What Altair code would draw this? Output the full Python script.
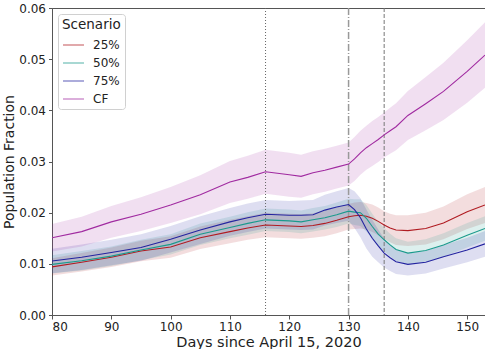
import altair as alt
import pandas as pd

days = [80, 85, 90, 95, 100, 105, 110, 113, 116, 118, 120, 122, 124, 126, 128,
        130, 131, 132, 133, 134, 135, 136, 137, 138, 140, 143, 146, 150, 153]

cf = [.0151, .0163, .0182, .0197, .0215, .0235, .0260, .0269, .0280, .0277, .0274, .0271, .0278, .0283, .0289,
      .0295, .0305, .0317, .0327, .0335, .0343, .0352, .0360, .0368, .0390, .0413, .0437, .0476, .0508]
cf_sp = [.0027, .0029, .0031, .0033, .0035, .0038, .0041, .0042, .0043, .0043, .0043, .0042, .0042, .0042, .0042,
         .0042, .0043, .0043, .0043, .0044, .0044, .0044, .0045, .0046, .0048, .0052, .0056, .0061, .0064]

p75 = [.01055, .0113, .0122, .0132, .0148, .0166, .0182, .0190, .0197, .0196, .0195, .0195, .0196, .0205, .0211,
       .0216, .0206, .0190, .0168, .0150, .0135, .0121, .0112, .0104, .0099, .0103, .0114, .0127, .0139]
p75_sp = [.0024, .0025, .0025, .0026, .0026, .0027, .0027, .0028, .0028, .0028, .0028, .0029, .0029, .0030, .0031,
          .0032, .0036, .0038, .0038, .0036, .0032, .0028, .0026, .0024, .0022, .0022, .0023, .0024, .0025]

p50 = [.0099, .0106, .0115, .0127, .0138, .0158, .0171, .0179, .0186, .0185, .0184, .0182, .0186, .0190, .0196,
       .0203, .0201, .0200, .0189, .0173, .0158, .0147, .0137, .0128, .0121, .0126, .0137, .0156, .0169]
p50_sp = [.0018, .0019, .0019, .0020, .0020, .0021, .0021, .0022, .0022, .0022, .0022, .0022, .0023, .0023, .0024,
          .0024, .0025, .0026, .0026, .0025, .0024, .0023, .0022, .0022, .0022, .0022, .0023, .0024, .0024]

p25 = [.0094, .0103, .0113, .0125, .0133, .0151, .0163, .0170, .0176, .0175, .0174, .0173, .0175, .0179, .0185,
       .0192, .0194, .0195, .0193, .0189, .0183, .0176, .0170, .0166, .0165, .0169, .0180, .0202, .0215]
p25_sp = [.0017, .0018, .0019, .0020, .0021, .0022, .0023, .0023, .0024, .0024, .0024, .0024, .0024, .0025, .0025,
          .0025, .0026, .0026, .0026, .0027, .0027, .0027, .0028, .0029, .0030, .0031, .0032, .0034, .0035]

scenarios = ["25%", "50%", "75%", "CF"]
colors = ["#b01c22", "#1a9a8c", "#2424a0", "#a02aa0"]

rows = []
for name, vals, sp in [("25%", p25, p25_sp), ("50%", p50, p50_sp), ("75%", p75, p75_sp), ("CF", cf, cf_sp)]:
    for d, v, s in zip(days, vals, sp):
        rows.append({"day": d, "value": v, "lo": v - s, "hi": v + s, "Scenario": name})
df = pd.DataFrame(rows)

xscale = alt.Scale(domain=[80, 153], nice=False, zero=False)
yscale = alt.Scale(domain=[0, 0.06], nice=False)
cscale = alt.Scale(domain=scenarios, range=colors)

legend = alt.Legend(
    title="Scenario", orient="top-left", offset=6, titleFontSize=13.5, labelFontSize=12,
    titleFontWeight="normal", titleColor="#222", labelColor="#222",
    symbolType="stroke", symbolSize=440, symbolStrokeWidth=1.5, symbolOpacity=0.5,
    strokeColor="#d0d0d0", fillColor="white", padding=4, cornerRadius=3,
    rowPadding=-9, labelOffset=8, titlePadding=2)

xaxis = alt.Axis(values=[80, 90, 100, 110, 120, 130, 140, 150], title="Days since April 15, 2020",
                 grid=False, labelFontSize=12, titleFontSize=14.5, titleFontWeight="normal",
                 labelColor="#222", titleColor="#222", domainColor="#555", tickColor="#555",
                 tickSize=4, titlePadding=3, labelPadding=2)
yaxis = alt.Axis(values=[0, 0.01, 0.02, 0.03, 0.04, 0.05, 0.06], format=".2f", title="Population Fraction",
                 grid=False, labelFontSize=12, titleFontSize=14, titleFontWeight="normal",
                 labelColor="#222", titleColor="#222", domainColor="#555", tickColor="#555",
                 tickSize=3.5, titlePadding=2, labelPadding=3)

base = alt.Chart(df)

bands = base.mark_area(opacity=0.15, clip=True).encode(
    x=alt.X("day:Q", scale=xscale, axis=xaxis),
    y=alt.Y("lo:Q", scale=yscale, axis=yaxis),
    y2="hi:Q",
    color=alt.Color("Scenario:N", scale=cscale, legend=legend),
    detail="Scenario:N",
)

lines = base.mark_line(strokeWidth=1.1, clip=True).encode(
    x=alt.X("day:Q", scale=xscale),
    y=alt.Y("value:Q", scale=yscale),
    color=alt.Color("Scenario:N", scale=cscale, legend=legend),
)

vl_dot = pd.DataFrame({"day": [116]})
vl_dd = pd.DataFrame({"day": [130]})
vl_dash = pd.DataFrame({"day": [136]})

r1 = alt.Chart(vl_dot).mark_rule(color="#666", strokeWidth=1, strokeDash=[1, 2]).encode(x=alt.X("day:Q", scale=xscale))
r2 = alt.Chart(vl_dd).mark_rule(color="#999", strokeWidth=1.5, strokeDash=[7, 2, 1, 2]).encode(x=alt.X("day:Q", scale=xscale))
r3 = alt.Chart(vl_dash).mark_rule(color="#777", strokeWidth=1, strokeDash=[4, 2]).encode(x=alt.X("day:Q", scale=xscale))

chart = alt.layer(bands, r1, r2, r3, lines).properties(
    width=433, height=307,
    padding={"left": 52, "top": 8, "right": 0, "bottom": 34},
    autosize=alt.AutoSizeParams(type="none"),
).configure(font="DejaVu Sans").configure_view(stroke="#555", strokeWidth=1)

chart.save("out.html", embed_options={"renderer": "svg", "actions": False})
